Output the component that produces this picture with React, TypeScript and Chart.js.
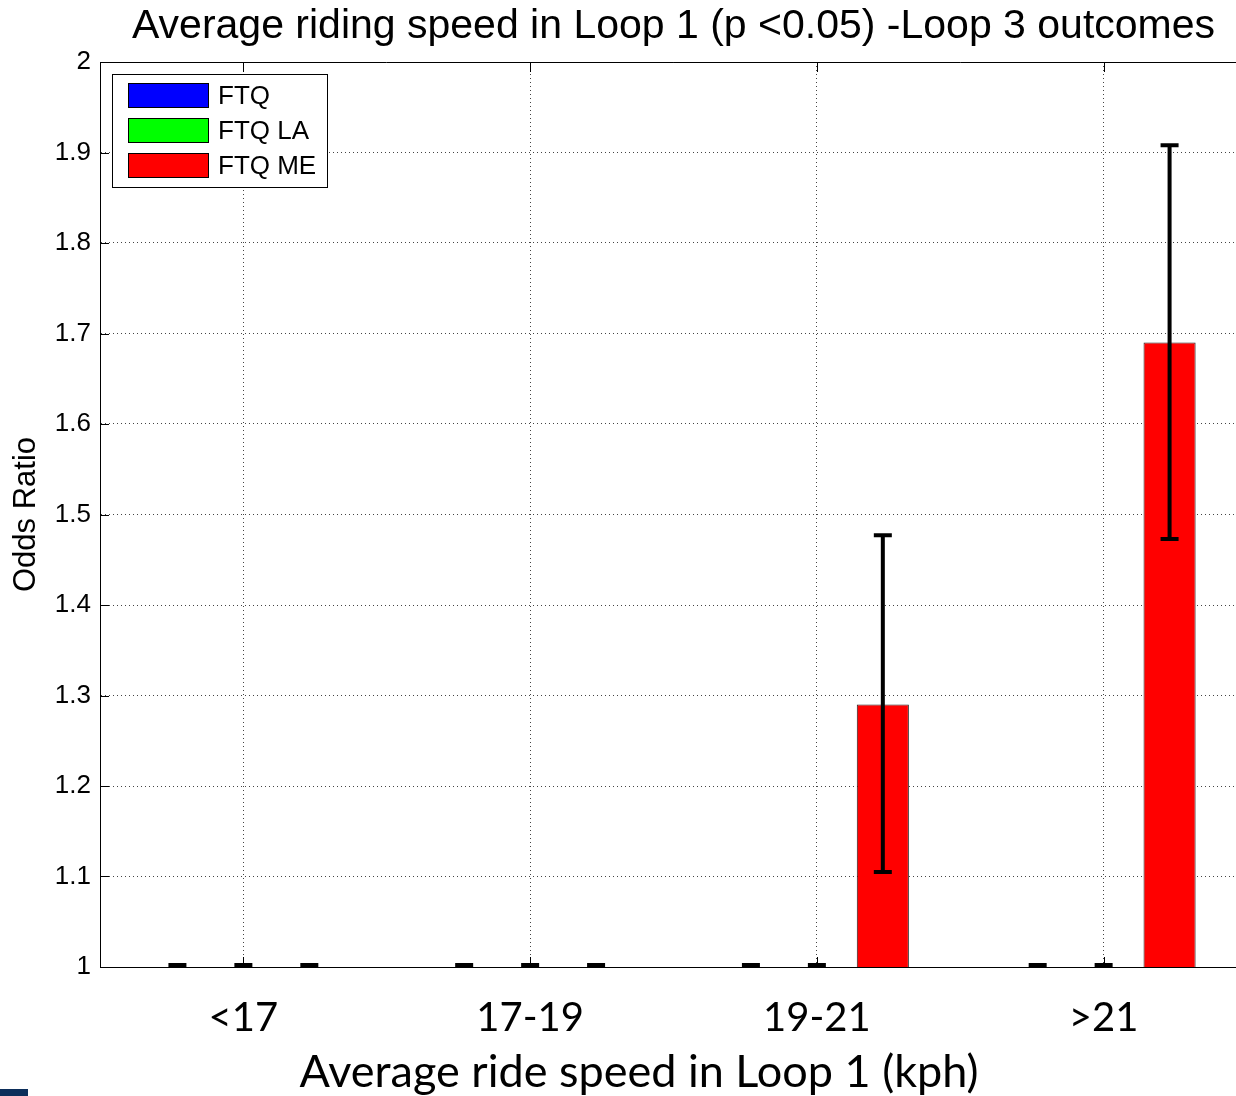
import React, { useEffect, useRef } from 'react';
import { Chart, registerables } from 'chart.js';

Chart.register(...registerables);

// ---- Data ----
const categories = ['<17', '17-19', '19-21', '>21'];
const seriesNames = ['FTQ', 'FTQ LA', 'FTQ ME'];
const seriesColors = ['#0000ff', '#00ff00', '#ff0000'];

const ftqValues = [1, 1, 1, 1];
const ftqLower = [1, 1, 1, 1];
const ftqUpper = [1, 1, 1, 1];

const ftqLaValues = [1, 1, 1, 1];
const ftqLaLower = [1, 1, 1, 1];
const ftqLaUpper = [1, 1, 1, 1];

const ftqMeValues = [1, 1, 1.29, 1.69];
const ftqMeLower = [1, 1, 1.105, 1.473];
const ftqMeUpper = [1, 1, 1.477, 1.908];

const yTicks = [1, 1.1, 1.2, 1.3, 1.4, 1.5, 1.6, 1.7, 1.8, 1.9, 2];

const chartTitle = 'Average riding speed in Loop 1 (p <0.05) -Loop 3 outcomes';
const xTitle = 'Average ride speed in Loop 1 (kph)';
const yTitle = 'Odds Ratio';

const ARIAL = '"Liberation Sans", Arial, sans-serif';
const CALIBRI = 'Lato, "Open Sans", sans-serif';

const lowers = [ftqLower, ftqLaLower, ftqMeLower];
const uppers = [ftqUpper, ftqLaUpper, ftqMeUpper];

const errorBarPlugin = {
  id: 'errorBars',
  afterDatasetsDraw(chart: any) {
    const ctx = chart.ctx;
    const yScale = chart.scales.y;
    ctx.save();
    ctx.strokeStyle = '#000';
    ctx.lineWidth = 4;
    chart.data.datasets.forEach((_ds: any, di: number) => {
      const meta = chart.getDatasetMeta(di);
      meta.data.forEach((bar: any, i: number) => {
        const x = bar.x;
        const yLo = yScale.getPixelForValue(lowers[di][i]);
        const yHi = yScale.getPixelForValue(uppers[di][i]);
        const capHalf = 9;
        const flat = Math.abs(yLo - yHi) < 0.5;
        ctx.beginPath();
        ctx.moveTo(x, yLo);
        ctx.lineTo(x, yHi);
        ctx.moveTo(x - capHalf, yLo - (flat ? 2 : 0));
        ctx.lineTo(x + capHalf, yLo - (flat ? 2 : 0));
        if (!flat) {
          ctx.moveTo(x - capHalf, yHi);
          ctx.lineTo(x + capHalf, yHi);
        }
        ctx.stroke();
      });
    });
    ctx.restore();
  },
};

const decorPlugin = {
  id: 'decor',
  afterDraw(chart: any) {
    const ctx = chart.ctx;
    const ca = chart.chartArea;
    const xScale = chart.scales.x;
    const yScale = chart.scales.y;
    ctx.save();

    // solid top border
    ctx.strokeStyle = '#000';
    ctx.lineWidth = 1;
    ctx.beginPath();
    ctx.moveTo(ca.left, Math.round(ca.top) + 0.5);
    ctx.lineTo(ca.right, Math.round(ca.top) + 0.5);
    ctx.stroke();

    // inward tick marks
    ctx.beginPath();
    yTicks.forEach((v) => {
      const y = Math.round(yScale.getPixelForValue(v)) + 0.5;
      ctx.moveTo(ca.left, y);
      ctx.lineTo(ca.left + 9, y);
    });
    categories.forEach((_c, i) => {
      const x = Math.round(xScale.getPixelForTick(i)) + 0.5;
      ctx.moveTo(x, ca.top);
      ctx.lineTo(x, ca.top + 10);
      ctx.moveTo(x, ca.bottom);
      ctx.lineTo(x, ca.bottom - 10);
    });
    ctx.stroke();

    // legend
    const lx = ca.left + 12;
    const ly = ca.top + 12;
    const lw = 215;
    const lh = 113;
    ctx.fillStyle = '#fff';
    ctx.fillRect(lx, ly, lw, lh);
    ctx.strokeStyle = '#000';
    ctx.lineWidth = 1;
    ctx.strokeRect(lx + 0.5, ly + 0.5, lw, lh);
    ctx.font = `26px ${ARIAL}`;
    ctx.textAlign = 'left';
    ctx.textBaseline = 'middle';
    seriesNames.forEach((name, i) => {
      const sy = ly + 9 + i * 35;
      ctx.fillStyle = seriesColors[i];
      ctx.fillRect(lx + 16, sy, 81, 25);
      ctx.strokeStyle = '#000';
      ctx.strokeRect(lx + 16.5, sy + 0.5, 80, 24);
      ctx.fillStyle = '#000';
      ctx.fillText(name, lx + 106, sy + 14);
    });

    // chart title
    ctx.fillStyle = '#000';
    ctx.font = `41px ${ARIAL}`;
    ctx.textAlign = 'center';
    ctx.textBaseline = 'alphabetic';
    ctx.fillText(chartTitle, (ca.left + ca.right) / 2, ca.top - 24);

    // x category labels
    ctx.font = `40px ${CALIBRI}`;
    categories.forEach((c, i) => {
      ctx.fillText(c, xScale.getPixelForTick(i), ca.bottom + 64);
    });

    // x title
    ctx.font = `45px ${CALIBRI}`;
    ctx.fillText(xTitle, ca.left + ca.width * 0.47, ca.bottom + 120);

    // y title
    ctx.save();
    ctx.translate(26, (ca.top + ca.bottom) / 2);
    ctx.rotate(-Math.PI / 2);
    ctx.font = `31px ${ARIAL}`;
    ctx.textBaseline = 'middle';
    ctx.fillText(yTitle, 0, 0);
    ctx.restore();

    ctx.restore();
  },
};

export default function App() {
  const canvasRef = useRef<HTMLCanvasElement | null>(null);

  useEffect(() => {
    const canvas = canvasRef.current;
    if (!canvas) return;
    const valuesList = [ftqValues, ftqLaValues, ftqMeValues];
    const chart = new Chart(canvas, {
      type: 'bar',
      data: {
        labels: categories,
        datasets: seriesNames.map((name, i) => ({
          label: name,
          data: valuesList[i],
          backgroundColor: seriesColors[i],
          borderColor: '#222',
          borderWidth: 1,
          categoryPercentage: 0.69,
          barPercentage: 0.79,
        })),
      },
      options: {
        responsive: false,
        animation: false,
        devicePixelRatio: 1,
        layout: { padding: { left: 0, top: 62, right: 15, bottom: 0 } },
        plugins: {
          legend: { display: false },
          title: { display: false },
          tooltip: { enabled: false },
        },
        scales: {
          x: {
            type: 'category',
            offset: true,
            grid: { offset: false, color: '#444', lineWidth: 1, drawTicks: false },
            border: { display: true, color: '#000', width: 1, dash: [1, 3] },
            ticks: { display: false },
            afterFit: (s: any) => {
              s.height = 129;
            },
          },
          y: {
            type: 'linear',
            min: 1,
            max: 2,
            grid: { color: '#444', lineWidth: 1, drawTicks: false },
            border: { display: true, color: '#000', width: 1, dash: [1, 3] },
            ticks: {
              color: '#000',
              padding: 9,
              font: { family: ARIAL, size: 26 },
              callback: (v: any) => String(Number(Number(v).toFixed(1))),
            },
            afterBuildTicks: (s: any) => {
              s.ticks = yTicks.map((v) => ({ value: v }));
            },
            afterFit: (s: any) => {
              s.width = 100;
            },
          },
        },
      },
      plugins: [errorBarPlugin, decorPlugin],
    } as any);
    return () => chart.destroy();
  }, []);

  return (
    <div
      style={{
        position: 'fixed',
        left: 0,
        top: 0,
        width: 1236,
        height: 1096,
        overflow: 'hidden',
        background: '#fff',
      }}
    >
      <canvas ref={canvasRef} width={1262} height={1096} style={{ display: 'block' }} />
      <div
        style={{
          position: 'absolute',
          left: 0,
          top: 1089,
          width: 28,
          height: 7,
          background: '#0c2e5a',
        }}
      />
    </div>
  );
}
